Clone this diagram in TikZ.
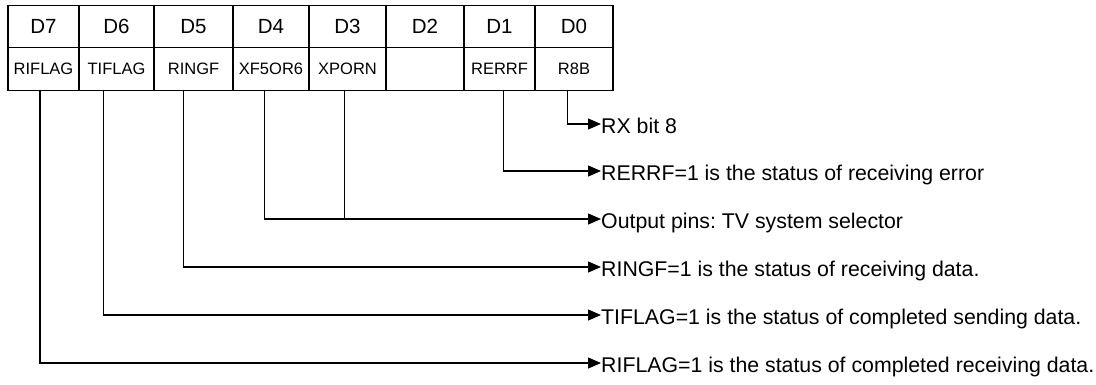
\documentclass[tikz,border=0pt]{standalone}
\usepackage{fontspec}
\setmainfont{Liberation Sans}
\usetikzlibrary{arrows.meta}
\frenchspacing
\tikzset{
  cell/.style={draw, line width=1.5pt, inner sep=0pt, minimum height=42pt},
  head/.style={cell, font=\fontsize{20.5}{24}\selectfont},
  field/.style={cell, font=\fontsize{16.5}{19}\selectfont, minimum height=43pt},
  conn/.style={line width=1.1pt, -{Triangle[length=13pt,width=11pt]}},
  plain/.style={line width=1.1pt},
  label/.style={anchor=west, inner sep=0pt, text height=18.5pt, text depth=0pt, font=\fontsize{21.3}{25}\selectfont}
}
\begin{document}
\begin{tikzpicture}[x=1pt,y=-1pt]
\useasboundingbox (0,0) rectangle (1096,385);
% header row
\node[head, minimum width=71pt] (c7) at (43.5,26.7) {D7};
\node[head, minimum width=75pt] (c6) at (116.5,26.7) {D6};
\node[head, minimum width=79pt] (c5) at (193.5,26.7) {D5};
\node[head, minimum width=76pt] (c4) at (271,26.7) {D4};
\node[head, minimum width=77pt] (c3) at (347.5,26.7) {D3};
\node[head, minimum width=78pt] (c2) at (425,26.7) {D2};
\node[head, minimum width=71pt] (c1) at (499.5,26.7) {D1};
\node[head, minimum width=78pt] (c0) at (574,26.7) {D0};
% field row
\node[field, minimum width=71pt] (n7) at (43.5,69.2) {RIFLAG};
\node[field, minimum width=75pt] (n6) at (116.5,69.2) {TIFLAG};
\node[field, minimum width=79pt] (n5) at (193.5,69.2) {RINGF};
\node[field, minimum width=76pt] (n4) at (271,69.2) {XF5OR6};
\node[field, minimum width=77pt] (n3) at (347.5,69.2) {XPORN};
\node[field, minimum width=78pt] (n2) at (425,69.2) {};
\node[field, minimum width=71pt] (n1) at (499.5,69.2) {RERRF};
\node[field, minimum width=78pt] (n0) at (574,69.2) {R8B};
% labels
\node[label] (t0) at (601,124) {RX bit 8};
\node[label] (t1) at (601,171) {RERRF=1 is the status of receiving error};
\node[label] (t2) at (601,219) {Output pins: TV system selector};
\node[label] (t3) at (601,267) {RINGF=1 is the status of receiving data.};
\node[label] (t4) at (601,315) {TIFLAG=1 is the status of completed sending data.};
\node[label] (t5) at (601,363) {RIFLAG=1 is the status of completed receiving data.};
% connectors
\draw[conn] (n0.south west) ++(33,0) |- (t0.west);
\draw[conn] (n1.south west) ++(40,0) |- (t1.west);
\draw[conn] (n4.south west) ++(32,0) |- (t2.west);
\draw[plain] (n3.south west) ++(36,0) coordinate (d3) -- (d3 |- t2.west);
\draw[conn] (n5.south west) ++(30,0) |- (t3.west);
\draw[conn] (n6.south west) ++(25,0) |- (t4.west);
\draw[conn] (n7.south west) ++(32.7,0) |- (t5.west);
\end{tikzpicture}
\end{document}
